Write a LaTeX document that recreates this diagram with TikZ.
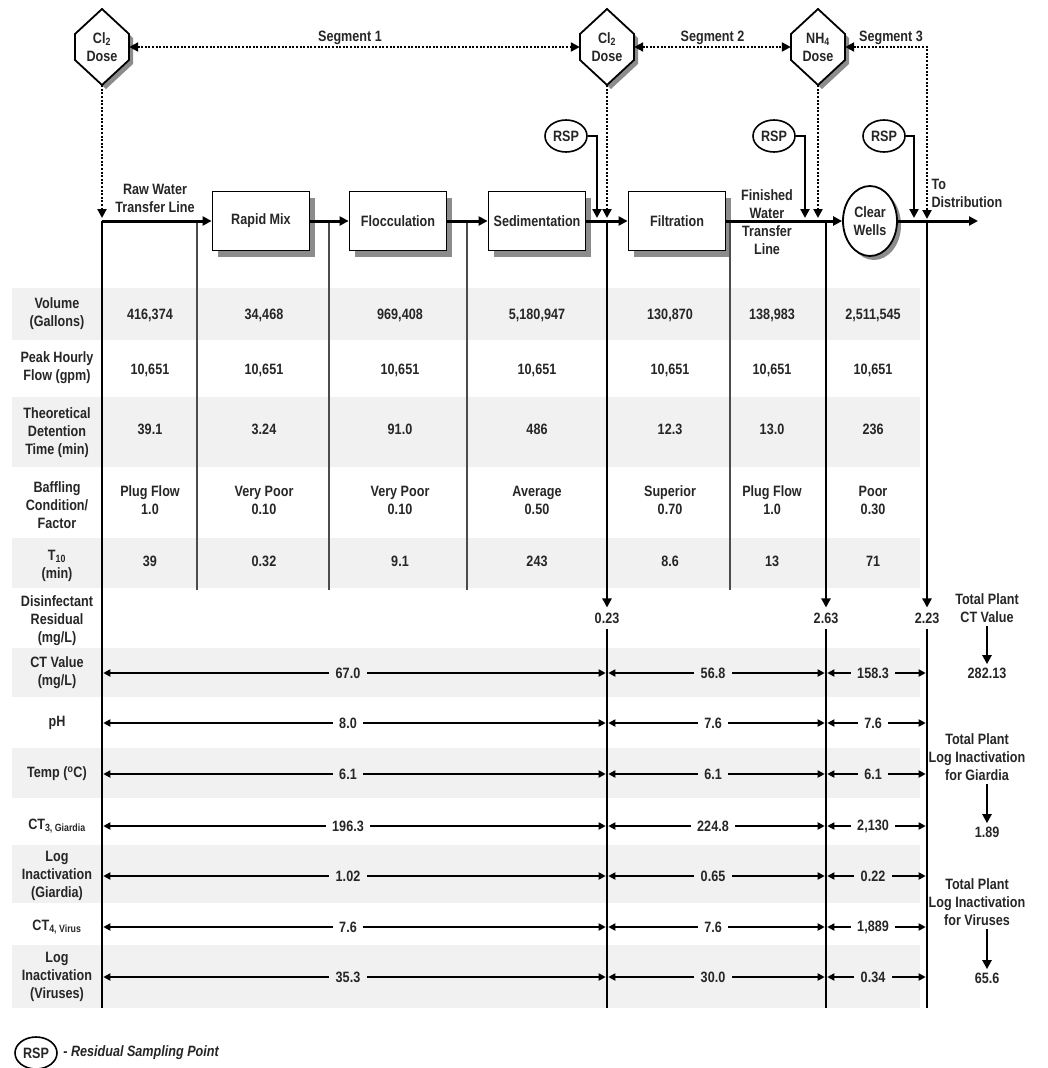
\documentclass[tikz,border=0pt]{standalone}
\usepackage{fontspec}
\setmainfont[FakeStretch=0.84]{Liberation Sans}
\usepackage{xcolor}
\usepackage{tikz}
\usetikzlibrary{shapes,arrows.meta,positioning,calc,shadows}

\definecolor{ink}{gray}{0.15}
\definecolor{rowgray}{gray}{0.945}
\definecolor{shadowgray}{gray}{0.55}
\newcommand{\figfont}{\fontsize{15}{18}\selectfont\bfseries}

\tikzset{
  >={Triangle[length=9pt,width=9pt]},
  every node/.style={font=\figfont, text=ink, align=center},
  flowline/.style={line width=3pt, ->},
  colthick/.style={line width=2.6pt},
  colthin/.style={line width=1.5pt, black!70},
  dotline/.style={line width=2.2pt, dash pattern=on 2pt off 1.6pt},
  feedline/.style={line width=2.2pt, ->},
  spanline/.style={line width=2.6pt, >={Triangle[length=7pt,width=7pt]}, shorten <=1.3pt, shorten >=1.3pt},
  sumline/.style={line width=2.6pt, ->},
  hexline/.style={line width=1.8pt},
  unitbox/.style={draw, line width=1.8pt, fill=white, minimum width=97, minimum height=59, inner sep=2pt,
    drop shadow={shadow xshift=5pt, shadow yshift=-6pt, fill=shadowgray, opacity=1}},
  wellbox/.style={ellipse, draw, line width=1.8pt, fill=white, minimum width=54, minimum height=70, inner sep=0pt,
    drop shadow={shadow xshift=4pt, shadow yshift=-4pt, fill=shadowgray, opacity=1}},
  rspbox/.style={ellipse, draw, line width=1.6pt, fill=white, minimum width=42, minimum height=32, inner sep=0pt},
  dosebox/.style={minimum width=54, minimum height=76, inner sep=0pt},
  seglabel/.style={above, inner sep=1pt},
  spanval/.style={inner sep=5pt},
}

% hexagon marking a chemical dose point
\newcommand{\dosehex}[3]{%
  \begin{scope}[shift={#2}]
    \fill[shadowgray] (4,-34) -- (31,-9) -- (31,17) -- (4,42) -- (-23,17) -- (-23,-9) -- cycle;
    \draw[hexline, fill=white] (0,-38) -- (27,-13) -- (27,13) -- (0,38) -- (-27,13) -- (-27,-13) -- cycle;
  \end{scope}
  \node[dosebox] (#1) at #2 {#3};}

\begin{document}
\begin{tikzpicture}[x=1pt, y=-1pt]
    \useasboundingbox (0,0) rectangle (1047,1068);

    % Shaded table rows
    \foreach \ytop/\ybot in {288/340, 397/467, 538/588, 648/697, 748/798, 845/903, 945/1008}
        \fill[rowgray] (12,\ytop) rectangle (920,\ybot);

    % Dose points
    \dosehex{cla}{(102,47)}{Cl\textsubscript{2}\\Dose}
    \dosehex{clb}{(607,47)}{Cl\textsubscript{2}\\Dose}
    \dosehex{nh}{(818,47)}{NH\textsubscript{4}\\Dose}

    % Segments
    \coordinate (segend) at (927,219);
    \draw[dotline, <->] (cla.east) -- (clb.west) node[seglabel, pos=0.49] (sega) {Segment 1};
    \draw[dotline, <->] (clb.east) -- (nh.west) node[seglabel, midway] (segb) {Segment 2};
    \draw[dotline, <->] (nh.east) -| (segend) node[seglabel, pos=0.28] (segc) {Segment 3};

    % Process units
    \node[unitbox] (rapid) at (261,221) {Rapid Mix};
    \node[unitbox] (flocc) at (398,221) {Flocculation};
    \node[unitbox] (sedim) at (537,221) {Sedimentation};
    \node[unitbox] (filt) at (677,221) {Filtration};
    \node[wellbox] (clear) at (870,221) {Clear\\Wells};

    \node (raw) at (155,198) {Raw Water\\Transfer Line};
    \node (fin) at (767,222) {Finished\\Water\\Transfer\\Line};
    \node[anchor=west, align=left] (dist) at (928,193) {To\\Distribution};

    % Column lines
    \coordinate (c0) at (102,221);
    \coordinate (c1) at (197,221);
    \coordinate (c2) at (329,221);
    \coordinate (c3) at (467,221);
    \coordinate (c4) at (607,221);
    \coordinate (c5) at (730,221);
    \coordinate (c6) at (826,221);
    \coordinate (c7) at (927,221);
    \coordinate (tten) at (0,590);
    \coordinate (tend) at (0,1008);
    \foreach \col in {c1,c2,c3,c5}
        \draw[colthin] (\col) -- (\col |- tten);
    \draw[colthick] (c0) -- (c0 |- tend);

    % Disinfectant residuals
    \node[spanval] (resa) at (607,618) {0.23};
    \node[spanval] (resb) at (826,618) {2.63};
    \node[spanval] (resc) at (927,618) {2.23};
    \draw[colthick, ->] (c4) -- (resa);
    \draw[colthick] (resa) -- (c4 |- tend);
    \draw[colthick, ->] (c6) -- (resb);
    \draw[colthick] (resb) -- (c6 |- tend);
    \draw[colthick, ->] (c7) -- (resc);
    \draw[colthick] (resc) -- (c7 |- tend);

    % Main flow line
    \coordinate (out) at (978,221);
    \draw[flowline] (c0) -- (rapid);
    \draw[flowline] (rapid) -- (flocc);
    \draw[flowline] (flocc) -- (sedim);
    \draw[flowline] (sedim) -- (filt);
    \draw[flowline] (filt) -- (clear);
    \draw[flowline] (clear) -- (out);

    % Dose lines down to the main line
    \coordinate (mtop) at (0,218);
    \draw[dotline, ->] (cla.south) -- (cla.south |- mtop);
    \draw[dotline, ->] (clb.south) -- (clb.south |- mtop);
    \draw[dotline, ->] (nh.south) -- (nh.south |- mtop);

    % Residual sampling points
    \node[rspbox] (rspa) at (566,136) {RSP};
    \node[rspbox] (rspb) at (774,136) {RSP};
    \node[rspbox] (rspc) at (884,136) {RSP};
    \coordinate (ina) at (597,218);
    \coordinate (inb) at (805,218);
    \coordinate (inc) at (914,218);
    \draw[feedline] (rspa.east) -| (ina);
    \draw[feedline] (rspb.east) -| (inb);
    \draw[feedline] (rspc.east) -| (inc);

    % Row labels
    \node (lvol) at (57,314) {Volume\\(Gallons)};
    \node (lflw) at (57,368) {Peak Hourly\\Flow (gpm)};
    \node (ltdt) at (57,433) {Theoretical\\Detention\\Time (min)};
    \node (lbaf) at (57,505) {Baffling\\Condition/\\Factor};
    \node (lten) at (57,566) {T\textsubscript{10}\\(min)};
    \node (lres) at (57,621) {Disinfectant\\Residual\\(mg/L)};
    \node (lct) at (57,673) {CT Value\\(mg/L)};
    \node (lph) at (57,723) {pH};
    \node (ltmp) at (57,774) {Temp (\textsuperscript{o}C)};
    \node (lctg) at (57,826) {CT\textsubscript{3, Giardia}};
    \node (llig) at (57,876) {Log\\Inactivation\\(Giardia)};
    \node (lctv) at (57,927) {CT\textsubscript{4, Virus}};
    \node (lliv) at (57,977) {Log\\Inactivation\\(Viruses)};

    % Unit values
    \foreach \x/\v [count=\i] in {150/{416,374}, 264/{34,468}, 400/{969,408}, 537/{5,180,947}, 670/{130,870}, 772/{138,983}, 873/{2,511,545}}
        \node (vol\i) at (\x,315) {\v};
    \foreach \x [count=\i] in {150,264,400,537,670,772,873}
        \node (flw\i) at (\x,370) {10,651};
    \foreach \x/\v [count=\i] in {150/39.1, 264/3.24, 400/91.0, 537/486, 670/12.3, 772/13.0, 873/236}
        \node (tdt\i) at (\x,429) {\v};
    \foreach \x/\v [count=\i] in {150/{Plug Flow\\1.0}, 264/{Very Poor\\0.10}, 400/{Very Poor\\0.10}, 537/{Average\\0.50}, 670/{Superior\\0.70}, 772/{Plug Flow\\1.0}, 873/{Poor\\0.30}}
        \node (baf\i) at (\x,500) {\v};
    \foreach \x/\v [count=\i] in {150/39, 264/0.32, 400/9.1, 537/243, 670/8.6, 772/13, 873/71}
        \node (ten\i) at (\x,561) {\v};

    % Segment values
    \foreach \y/\va/\vb/\vc/\rw in {673/67.0/56.8/158.3/ct, 723/8.0/7.6/7.6/ph, 774/6.1/6.1/6.1/tmp,
        826/196.3/224.8/{2,130}/ctg, 876/1.02/0.65/0.22/lig, 927/7.6/7.6/{1,889}/ctv, 977/35.3/30.0/0.34/liv}
    {
        \node[spanval] (\rw1) at (348,\y) {\va};
        \node[spanval] (\rw2) at (713,\y) {\vb};
        \node[spanval] (\rw3) at (873,\y) {\vc};
        \draw[spanline, <-] (c0 |- \rw1) -- (\rw1.west);
        \draw[spanline, ->] (\rw1.east) -- (c4 |- \rw1);
        \draw[spanline, <-] (c4 |- \rw2) -- (\rw2.west);
        \draw[spanline, ->] (\rw2.east) -- (c6 |- \rw2);
        \draw[spanline, <-] (c6 |- \rw3) -- (\rw3.west);
        \draw[spanline, ->] (\rw3.east) -- (c7 |- \rw3);
    }

    % Plant totals
    \node (totct) at (987,608) {Total Plant\\CT Value};
    \node (totctv) at (987,673) {282.13};
    \draw[sumline] (totct) -- (totctv);
    \node (totg) at (977,757) {Total Plant\\Log Inactivation\\for Giardia};
    \node (totgv) at (987,832) {1.89};
    \draw[sumline] (totg.south -| totgv) -- (totgv);
    \node (totv) at (977,902) {Total Plant\\Log Inactivation\\for Viruses};
    \node (totvv) at (987,978) {65.6};
    \draw[sumline] (totv.south -| totvv) -- (totvv);

    % Key
    \node[rspbox] (key) at (36,1053) {RSP};
    \node[anchor=west, font=\figfont\itshape] (keytxt) at ([xshift=2pt]key.east) {- Residual Sampling Point};
\end{tikzpicture}
\end{document}
